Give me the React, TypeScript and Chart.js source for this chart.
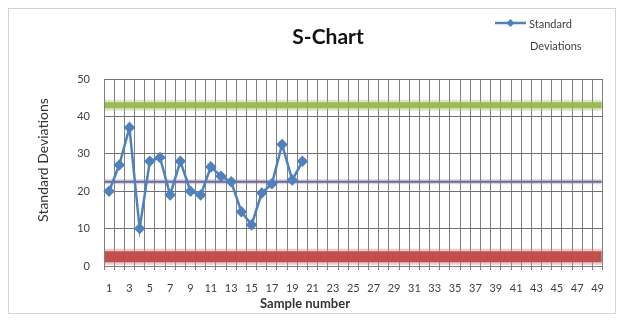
import React, { useEffect, useRef } from "react";
import { Chart, registerables } from "chart.js";

Chart.register(...registerables);

const categories = [
  "1", "2", "3", "4", "5", "6", "7", "8", "9", "10",
  "11", "12", "13", "14", "15", "16", "17", "18", "19", "20",
  "21", "22", "23", "24", "25", "26", "27", "28", "29", "30",
  "31", "32", "33", "34", "35", "36", "37", "38", "39", "40",
  "41", "42", "43", "44", "45", "46", "47", "48", "49",
];

const stdDevs = [20, 27, 37, 10, 28, 29, 19, 28, 20, 19, 26.5, 24, 22.5, 14.5, 11, 19.5, 22, 32.5, 23, 28];

const yTicks = [0, 10, 20, 30, 40, 50];

const UCL = 43;
const CL = 22.5;
const LCL = 2.5;

const FONT = "Lato, 'Open Sans', sans-serif";

const decorPlugin = {
  id: "decor",
  beforeDatasetsDraw(chart: any) {
    const { ctx, chartArea } = chart;
    const y = chart.scales.y;
    const drawH = (v: number, color: string, w: number) => {
      const py = y.getPixelForValue(v);
      ctx.save();
      ctx.strokeStyle = color;
      ctx.lineWidth = w;
      ctx.beginPath();
      ctx.moveTo(chartArea.left + 1, py);
      ctx.lineTo(chartArea.right - 1, py);
      ctx.stroke();
      ctx.restore();
    };
    drawH(UCL, "rgba(155,187,89,0.35)", 11);
    drawH(UCL, "#9bbb59", 6);
    drawH(LCL, "rgba(226,130,140,0.45)", 16);
    drawH(LCL, "#c0504d", 11);
    drawH(CL, "rgba(140,130,180,0.35)", 5);
    drawH(CL, "#6f6a8e", 2);
  },
  afterDraw(chart: any) {
    const { ctx, width, height } = chart;
    ctx.save();
    // outer border
    ctx.strokeStyle = "#d4d4d4";
    ctx.lineWidth = 1;
    ctx.strokeRect(0.5, 0.5, width - 1, height - 1);

    // title
    ctx.fillStyle = "#111";
    ctx.font = `bold 21px ${FONT}`;
    ctx.textAlign = "center";
    ctx.textBaseline = "middle";
    ctx.fillText("S-Chart", 320, 29);

    // legend
    ctx.strokeStyle = "#4f81bd";
    ctx.lineWidth = 2.5;
    ctx.beginPath();
    ctx.moveTo(487, 15);
    ctx.lineTo(518, 15);
    ctx.stroke();
    ctx.fillStyle = "#4f81bd";
    ctx.beginPath();
    ctx.moveTo(502.5, 11);
    ctx.lineTo(506.5, 15);
    ctx.lineTo(502.5, 19);
    ctx.lineTo(498.5, 15);
    ctx.closePath();
    ctx.fill();
    ctx.fillStyle = "#404040";
    ctx.font = `11px ${FONT}`;
    ctx.textAlign = "left";
    ctx.fillText(chart.data.datasets[0].label.split(" ")[0], 521, 16);
    ctx.fillText(chart.data.datasets[0].label.split(" ")[1], 522, 38);

    // axis titles
    ctx.font = `bold 13px ${FONT}`;
    ctx.textAlign = "center";
    ctx.fillStyle = "#333";
    ctx.fillText("Sample number", 297, 296);

    ctx.save();
    ctx.translate(35, 152);
    ctx.rotate(-Math.PI / 2);
    ctx.font = `14px ${FONT}`;
    ctx.fillText("Standard Deviations", 0, 0);
    ctx.restore();
    ctx.restore();
  },
};

export default function App() {
  const ref = useRef<HTMLCanvasElement | null>(null);

  useEffect(() => {
    if (!ref.current) return;
    const chart = new Chart(ref.current, {
      type: "line",
      data: {
        labels: categories,
        datasets: [
          {
            label: "Standard Deviations",
            data: stdDevs,
            borderColor: "#4f81bd",
            backgroundColor: "#4f81bd",
            borderWidth: 2.5,
            pointStyle: "rectRot",
            pointRadius: 4,
            pointHoverRadius: 4,
            tension: 0,
          },
        ],
      },
      options: {
        responsive: false,
        animation: false,
        events: [],
        layout: { padding: { left: 0, right: 5, top: 71, bottom: 0 } },
        plugins: {
          legend: { display: false },
          title: { display: false },
          tooltip: { enabled: false },
        },
        scales: {
          x: {
            offset: true,
            grid: {
              offset: true,
              color: "#808080",
              lineWidth: 1,
              drawTicks: true,
              tickLength: 4,
            },
            border: { color: "#808080" },
            ticks: {
              autoSkip: false,
              maxRotation: 0,
              minRotation: 0,
              padding: 12,
              color: "#404040",
              font: { family: FONT, size: 11 },
              callback: (_v: any, i: number) => (i % 2 === 0 ? categories[i] : ""),
            },
            afterFit: (s: any) => {
              s.height = 48;
            },
          },
          y: {
            min: 0,
            max: 50,
            afterBuildTicks: (s: any) => {
              s.ticks = yTicks.map((v) => ({ value: v }));
            },
            grid: { color: "#707070", lineWidth: 1, drawTicks: false },
            border: { color: "#808080" },
            ticks: {
              padding: 14,
              color: "#404040",
              font: { family: FONT, size: 11 },
            },
            afterFit: (s: any) => {
              s.width = 96;
            },
          },
        },
      },
      plugins: [decorPlugin],
    });
    return () => chart.destroy();
  }, []);

  return <canvas ref={ref} width={608} height={306} style={{ display: "block" }} />;
}
